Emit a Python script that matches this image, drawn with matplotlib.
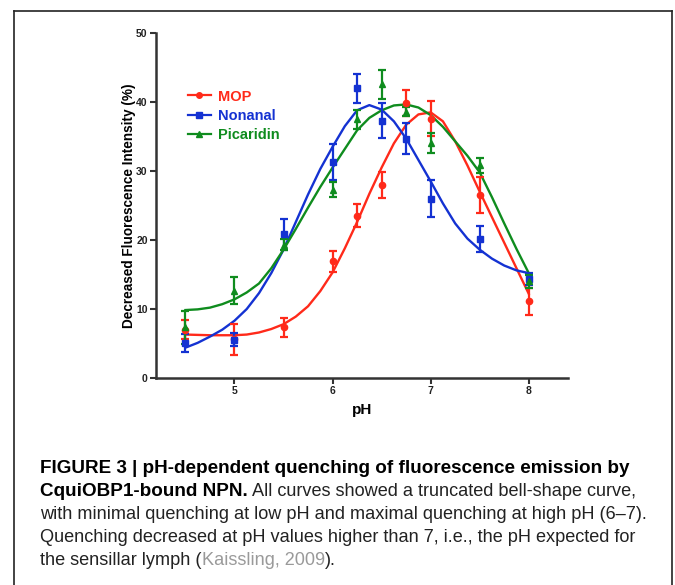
import matplotlib

matplotlib.use("Agg")

import matplotlib.pyplot as plt
from matplotlib.lines import Line2D

plt.rcParams['font.family'] = ['Liberation Sans', 'DejaVu Sans']

# measured points (mean +/- error)
ph = [4.5, 5.0, 5.5, 6.0, 6.25, 6.5, 6.75, 7.0, 7.5, 8.0]
mop = [7.0, 5.6, 7.35, 16.9, 23.5, 28.0, 39.9, 37.6, 26.5, 11.1]
mop_err = [1.4, 2.2, 1.35, 1.5, 1.65, 1.9, 1.9, 2.5, 2.65, 2.0]
nonanal = [5.1, 5.55, 20.8, 31.3, 42.0, 37.3, 34.7, 26.0, 20.1, 14.35]
nonanal_err = [1.35, 0.95, 2.2, 2.55, 2.1, 2.5, 2.3, 2.65, 1.9, 0.85]
picaridin = [7.35, 12.65, 19.3, 27.3, 37.5, 42.6, 38.6, 34.1, 30.8, 14.0]
picaridin_err = [2.4, 1.95, 0.8, 1.1, 1.4, 2.1, 0.7, 1.45, 1.15, 1.0]

# fitted curves
fit_ph = [4.5, 4.625, 4.75, 4.875, 5.0, 5.125, 5.25, 5.375, 5.5, 5.625,
          5.75, 5.875, 6.0, 6.125, 6.25, 6.375, 6.5, 6.625, 6.75, 6.875,
          7.0, 7.125, 7.25, 7.375, 7.5, 7.625, 7.75, 7.875, 8.0]
mop_fit = [6.3, 6.25, 6.2, 6.2, 6.2, 6.3, 6.6, 7.1, 7.8, 8.9,
           10.4, 12.6, 15.3, 18.8, 22.6, 26.7, 30.5, 34.0, 36.7, 38.2,
           38.5, 37.2, 34.3, 30.8, 27.0, 23.3, 19.6, 15.9, 12.2]
nonanal_fit = [4.4, 5.1, 6.0, 7.0, 8.3, 10.0, 12.3, 15.2, 18.6, 22.6,
               26.6, 30.3, 33.5, 36.5, 38.8, 39.55, 38.9, 37.2, 34.7, 31.6,
               28.5, 25.3, 22.4, 20.2, 18.6, 17.3, 16.3, 15.6, 15.2]
picaridin_fit = [9.85, 9.95, 10.2, 10.7, 11.4, 12.4, 13.7, 15.9, 18.6, 21.6,
                 24.7, 27.7, 30.5, 33.2, 35.9, 37.7, 38.8, 39.5, 39.65, 39.2,
                 38.1, 36.4, 34.3, 32.2, 29.8, 26.2, 22.4, 18.7, 15.2]

series = [
    ('MOP', mop, mop_err, mop_fit, '#ff2a1a', 'o'),
    ('Nonanal', nonanal, nonanal_err, nonanal_fit, '#1432d2', 's'),
    ('Picaridin', picaridin, picaridin_err, picaridin_fit, '#0f8c1e', '^'),
]

fig = plt.figure(figsize=(6.75, 5.85), dpi=100)
ax = fig.add_axes([0.2311, 0.3538, 0.6104, 0.5898])

handles = []
for name, vals, err, fit, col, mk in series:
    ax.errorbar(ph, vals, yerr=err, fmt=mk, color=col, ms=4.5 if mk != '^' else 4,
                elinewidth=1.6, capsize=3.2, capthick=1.6, zorder=3)
    ax.plot(fit_ph, fit, color=col, lw=1.7, zorder=2)
    handles.append(Line2D([0], [0], color=col, lw=1.6, marker=mk, ms=4))

ax.set_xlim(4.2, 8.4)
ax.set_ylim(0, 50)
ax.set_xticks([5, 6, 7, 8])
ax.set_yticks([0, 10, 20, 30, 40, 50])
for side in ['top', 'right']:
    ax.spines[side].set_visible(False)
for side in ['left', 'bottom']:
    ax.spines[side].set_linewidth(1.8)
    ax.spines[side].set_color('#333333')
ax.tick_params(direction='out', length=4, width=1.5, color='#333333',
               labelsize=7.5, pad=2)
for lab in ax.get_xticklabels() + ax.get_yticklabels():
    lab.set_fontweight('bold')
    lab.set_color('#222222')
ax.set_xlabel('pH', fontsize=11, fontweight='bold', labelpad=5)
ax.set_ylabel('Decreased Fluorescence Intensity (%)', fontsize=9.8,
              fontweight='bold', labelpad=0)

leg = ax.legend(handles, [s[0] for s in series], loc='upper left',
                bbox_to_anchor=(0.045, 0.874), frameon=False, handlelength=1.6,
                handletextpad=0.5, labelspacing=0.36,
                prop={'weight': 'bold', 'size': 10.5})
for txt, s in zip(leg.get_texts(), series):
    txt.set_color(s[4])

# outer frame of the figure panel
fx0, fx1, fy1 = 14 / 675, 672 / 675, 1 - 11 / 585
for xs, ys in [([fx0, fx0], [0, fy1]), ([fx0, fx1], [fy1, fy1]),
               ([fx1, fx1], [fy1, 0])]:
    fig.add_artist(Line2D(xs, ys, transform=fig.transFigure, color='#222222', lw=1.2))

# caption
cx = 40 / 675
bold_size = 13.6
cap_size = 13.1
dark = '#222222'
base = [473, 496, 519, 542, 565]
yb = [1 - b / 585 for b in base]

fig.text(cx, yb[0], 'FIGURE 3 | pH-dependent quenching of fluorescence emission by',
         fontsize=bold_size, fontweight='bold', color='black', va='baseline')
t = fig.text(cx, yb[1], 'CquiOBP1-bound NPN.', fontsize=bold_size,
             fontweight='bold', color='black', va='baseline')
ax.annotate(' All curves showed a truncated bell-shape curve,', xy=(1, 0),
            xycoords=t, va='bottom', ha='left', fontsize=cap_size, color=dark,
            annotation_clip=False)
fig.text(cx, yb[2], 'with minimal quenching at low pH and maximal quenching at high pH (6\u20137).',
         fontsize=cap_size, color=dark, va='baseline')
fig.text(cx, yb[3], 'Quenching decreased at pH values higher than 7, i.e., the pH expected for',
         fontsize=cap_size, color=dark, va='baseline')
t = fig.text(cx, yb[4], 'the sensillar lymph (', fontsize=cap_size, color=dark,
             va='baseline')
t = ax.annotate('Kaissling, 2009', xy=(1, 0), xycoords=t, va='bottom', ha='left',
                fontsize=cap_size, color='#9a9a9a', annotation_clip=False)
ax.annotate(').', xy=(1, 0), xycoords=t, va='bottom', ha='left',
            fontsize=cap_size, color=dark, annotation_clip=False)

fig.savefig('out.png', dpi=100)
